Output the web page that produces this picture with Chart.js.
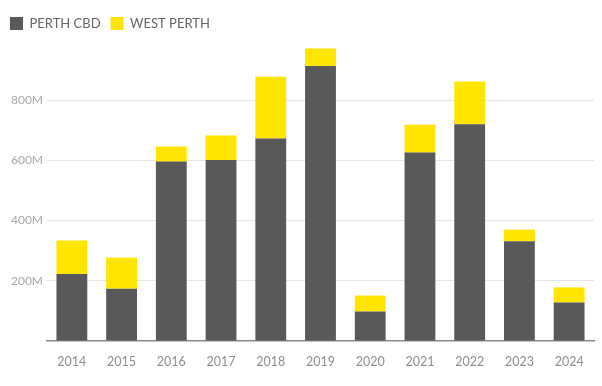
<!DOCTYPE html>
<html>
<head>
<meta charset="utf-8">
<script src="https://cdn.jsdelivr.net/npm/chart.js@4"></script>
<style>
  html, body { margin: 0; padding: 0; background: #fff; }
  #wrap { width: 602px; height: 386px; position: relative; }
</style>
</head>
<body>
<div id="wrap"><canvas id="chart"></canvas></div>
<script>
// Data (millions)
const years = ["2014", "2015", "2016", "2017", "2018", "2019", "2020", "2021", "2022", "2023", "2024"];
const perthCbd = [223, 174, 596, 601, 673, 914, 98, 626, 720, 331, 128];
const westPerth = [111, 103, 50, 82, 205, 58, 53, 93, 142, 39, 50];
const yTicks = [200, 400, 600, 800];

const ctx = document.getElementById("chart").getContext("2d");
new Chart(ctx, {
  type: "bar",
  data: {
    labels: years,
    datasets: [
      {
        label: "PERTH CBD",
        data: perthCbd,
        backgroundColor: "#595959",
        barPercentage: 0.62,
        categoryPercentage: 1,
      },
      {
        label: "WEST PERTH",
        data: westPerth,
        backgroundColor: "#FFE500",
        barPercentage: 0.62,
        categoryPercentage: 1,
      },
    ],
  },
  options: {
    responsive: true,
    maintainAspectRatio: false,
    animation: false,
    layout: { padding: { left: 0, right: 8, top: 7, bottom: 0 } },
    plugins: {
      tooltip: { enabled: false },
      legend: {
        position: "top",
        align: "start",
        labels: {
          boxWidth: 13,
          boxHeight: 13,
          padding: 10,
          color: "#666",
          font: { family: "Lato", size: 13 },
        },
      },
    },
    scales: {
      x: {
        stacked: true,
        grid: { display: false },
        border: { display: true, color: "#8a8a8a", width: 1.5 },
        ticks: {
          color: "#8f8f8f",
          padding: 5,
          font: { family: "Lato", size: 12.5 },
        },
        afterFit: (axis) => { axis.height = 45; },
      },
      y: {
        stacked: true,
        min: 0,
        max: 1000,
        afterBuildTicks: (axis) => {
          axis.ticks = [0].concat(yTicks, [1000]).map((v) => ({ value: v }));
        },
        grid: {
          drawTicks: false,
          color: (c) => (c.tick && (c.tick.value === 0 || c.tick.value === 1000) ? "rgba(0,0,0,0)" : "#e6e6e6"),
        },
        border: { display: false },
        ticks: {
          color: "#a8a8a8",
          padding: 4,
          font: { family: "Lato", size: 12 },
          callback: (v) => (v === 0 || v === 1000 ? "" : v + "M"),
        },
        afterFit: (axis) => { axis.width = 47; },
      },
    },
  },
});
</script>
</body>
</html>
